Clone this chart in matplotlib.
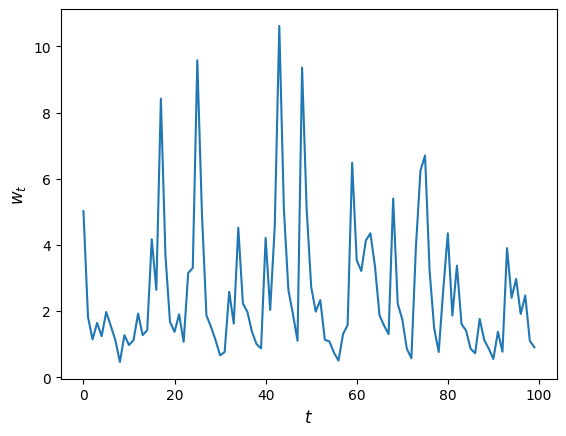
import numpy as np
import matplotlib
matplotlib.use('Agg')
from matplotlib import pyplot as plt

# weights w_t, t = 0..99
w = [5.02, 1.82, 1.14, 1.64, 1.24, 1.97, 1.55, 1.12, 0.46, 1.27,
     0.97, 1.12, 1.92, 1.27, 1.42, 4.17, 2.64, 8.42, 3.69, 1.67,
     1.37, 1.90, 1.07, 3.15, 3.30, 9.58, 5.00, 1.87, 1.52, 1.12,
     0.66, 0.76, 2.58, 1.62, 4.52, 2.23, 1.97, 1.37, 1.00, 0.87,
     4.21, 2.03, 4.56, 10.62, 5.10, 2.63, 1.90, 1.10, 9.36, 5.10,
     2.73, 1.98, 2.33, 1.13, 1.08, 0.74, 0.50, 1.30, 1.58, 6.48,
     3.53, 3.21, 4.13, 4.35, 3.36, 1.87, 1.56, 1.30, 5.40, 2.22,
     1.75, 0.86, 0.57, 3.95, 6.25, 6.70, 3.22, 1.48, 0.76, 2.65,
     4.35, 1.86, 3.37, 1.61, 1.41, 0.86, 0.72, 1.76, 1.12, 0.86,
     0.55, 1.37, 0.77, 3.90, 2.40, 2.97, 1.91, 2.47, 1.10, 0.90]
t = np.arange(len(w))

fig, ax = plt.subplots(figsize=(6.4, 4.8), dpi=100)
ax.plot(t, w)
ax.set_xlabel('$t$', fontsize=12)
ax.set_ylabel('$w_t$', fontsize=12)

plt.savefig('out.png', dpi=100, bbox_inches='tight')
